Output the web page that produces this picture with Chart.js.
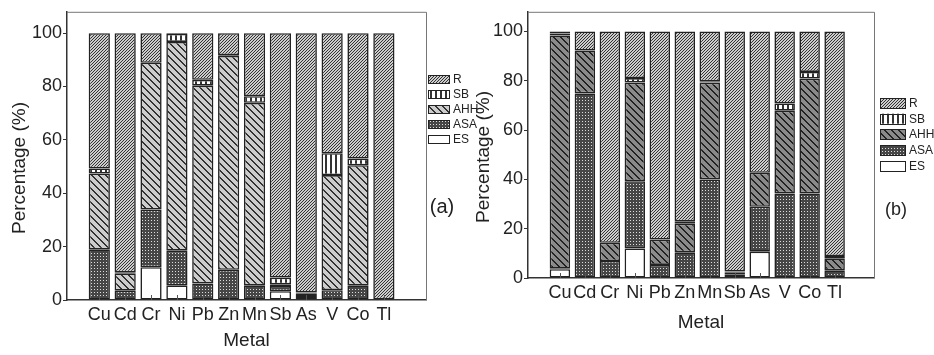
<!DOCTYPE html>
<html>
<head>
<meta charset="utf-8">
<script src="https://cdn.jsdelivr.net/npm/chart.js@4.4.1/dist/chart.umd.min.js"></script>
<style>
  body { margin: 0; background: #fff; }
  #wrap { position: relative; width: 934px; height: 355px; overflow: hidden; }
  canvas { position: absolute; top: 0; }
  #chartA { left: 0; }
  #chartB { left: 467px; }
</style>
</head>
<body>
<div id="wrap">
  <canvas id="chartA" width="500" height="355"></canvas>
  <canvas id="chartB" width="467" height="355"></canvas>
</div>
<script>
const metals = ['Cu', 'Cd', 'Cr', 'Ni', 'Pb', 'Zn', 'Mn', 'Sb', 'As', 'V', 'Co', 'Tl'];
const fractions = ['ES', 'ASA', 'AHH', 'SB', 'R'];
const yTicks = [0, 20, 40, 60, 80, 100];

// panel (a), percent of each fraction
const esA  = [0, 0, 12.3, 5.5, 0, 0, 0, 3.3, 0.3, 0, 0, 0];
const asaA = [19.0, 3.5, 21.6, 13.0, 6.2, 11.3, 5.5, 1.9, 1.2, 3.7, 5.5, 0.2];
const ahhA = [28.4, 6.5, 55.0, 78.2, 74.1, 80.2, 68.4, 0.7, 1.0, 43.1, 45.0, 0];
const sbA  = [1.9, 0.4, 0, 3.0, 2.2, 0.3, 2.5, 2.5, 0.3, 8.2, 2.5, 0];
const rA   = [50.7, 89.6, 11.1, 0.3, 17.5, 8.2, 23.6, 91.6, 97.2, 45.0, 47.0, 99.8];

// panel (b)
const esB  = [3.6, 0, 0, 12.0, 0, 0, 0, 1.3, 10.7, 0, 0, 0];
const asaB = [0.2, 74.9, 6.9, 27.3, 5.3, 10.4, 40.0, 1.0, 18.2, 34.3, 34.3, 3.1];
const ahhB = [94.6, 17.4, 7.4, 40.0, 10.3, 11.6, 39.3, 0.3, 13.8, 33.6, 46.6, 4.9];
const sbB  = [0.8, 0, 0, 1.8, 0, 1.0, 0.5, 0, 0, 2.9, 2.7, 0.9];
const rB   = [0.8, 7.7, 85.7, 18.9, 84.4, 77.0, 20.2, 97.4, 57.3, 29.2, 16.4, 91.1];

Chart.defaults.font.family = "'Liberation Sans', Arial, sans-serif";
Chart.defaults.color = '#222';

// small pixel tiles for the hatch fills
function pattern(size, bg, fg, on) {
    const c = document.createElement('canvas');
    c.width = size;
    c.height = size;
    const g = c.getContext('2d');
    g.fillStyle = bg;
    g.fillRect(0, 0, size, size);
    g.fillStyle = fg;
    for (let y = 0; y < size; y++)
        for (let x = 0; x < size; x++)
            if (on(x, y)) g.fillRect(x, y, 1, 1);
    return g.createPattern(c, 'repeat');
}

const patES = '#ffffff';
const patASA = pattern(3, '#464646', '#dddddd', (x, y) => x === 1 && y === 1);
const patAHHa = pattern(7, '#cdcdcd', '#333', (x, y) => (x - y + 7) % 7 < 2);
const patAHHb = pattern(7, '#8a8a8a', '#222', (x, y) => (x - y + 7) % 7 < 2);
const patSB = pattern(5, '#ffffff', '#333', (x, y) => x < 2);
const patR = pattern(3, '#cccccc', '#333333', (x, y) => (x + y) % 3 === 2);

function makeDatasets(values, pats) {
    return fractions.map((name, k) => ({
        label: name,
        data: metals.map((m, i) => ({ x: i, y: values[k][i] })),
        backgroundColor: pats[k],
        borderColor: '#222',
        borderWidth: 1.6,
        borderSkipped: false,
        barPercentage: 0.82,
        categoryPercentage: 1
    }));
}

// frame, inward x ticks, y title, legend and panel letter
const decor = {
    id: 'decor',
    afterDatasetsDraw(chart, args, o) {
        const ctx = chart.ctx;
        const a = chart.chartArea;
        ctx.save();
        ctx.strokeStyle = '#777';
        ctx.lineWidth = 1;
        ctx.beginPath();
        ctx.moveTo(a.left, a.top + 0.5);
        ctx.lineTo(a.right + 0.5, a.top + 0.5);
        ctx.lineTo(a.right + 0.5, a.bottom);
        ctx.stroke();

        const xs = chart.scales.x;
        ctx.strokeStyle = '#555';
        xs.ticks.forEach(t => {
            const px = Math.round(xs.getPixelForValue(t.value)) + 0.5;
            ctx.beginPath();
            ctx.moveTo(px, a.bottom);
            ctx.lineTo(px, a.bottom - 5);
            ctx.stroke();
        });

        ctx.fillStyle = '#222';
        ctx.textAlign = 'center';
        ctx.textBaseline = 'middle';
        ctx.font = "19px 'Liberation Sans', Arial";
        ctx.save();
        ctx.translate(o.titleX, o.titleY);
        ctx.rotate(-Math.PI / 2);
        ctx.fillText('Percentage (%)', 0, 0);
        ctx.restore();

        ctx.font = o.letterFont;
        ctx.fillText(o.letter, o.letterX, o.letterY);

        // legend, top entry is the last dataset
        ctx.textAlign = 'left';
        ctx.font = "12px 'Liberation Sans', Arial";
        ctx.lineWidth = 1;
        ctx.strokeStyle = '#222';
        const ds = chart.data.datasets.slice().reverse();
        ds.forEach((d, i) => {
            const cy = o.legendY + i * o.legendGap;
            ctx.fillStyle = d.backgroundColor;
            ctx.fillRect(o.legendX, cy - o.swatchH / 2, o.swatchW, o.swatchH);
            ctx.strokeRect(o.legendX + 0.5, Math.round(cy - o.swatchH / 2) + 0.5, o.swatchW, o.swatchH);
            ctx.fillStyle = '#222';
            ctx.fillText(d.label, o.legendX + o.swatchW + 4, cy + 0.5);
        });
        ctx.restore();
    }
};

function makeChart(id, datasets, p) {
    return new Chart(id, {
        type: 'bar',
        data: { datasets: datasets },
        plugins: [decor],
        options: {
            responsive: false,
            animation: false,
            layout: { padding: { top: 8, right: p.padRight, left: 0, bottom: 0 } },
            plugins: {
                legend: { display: false },
                tooltip: { enabled: false },
                decor: p.decor
            },
            scales: {
                x: {
                    type: 'linear',
                    stacked: true,
                    min: p.xMin,
                    max: p.xMax,
                    afterBuildTicks: s => { s.ticks = metals.map((m, i) => ({ value: i })); },
                    afterFit: s => { s.height = p.xHeight; },
                    ticks: {
                        callback: v => metals[v],
                        autoSkip: false,
                        maxRotation: 0,
                        padding: p.xPad,
                        font: { size: 18 },
                        color: '#222'
                    },
                    grid: { drawOnChartArea: false, drawTicks: false },
                    border: { color: '#333', width: 1.5 },
                    title: {
                        display: true,
                        text: 'Metal',
                        font: { size: 19 },
                        color: '#222',
                        padding: { top: 0, bottom: p.titlePad }
                    }
                },
                y: {
                    stacked: true,
                    min: 0,
                    max: 108,
                    afterBuildTicks: s => { s.ticks = yTicks.map(v => ({ value: v })); },
                    afterFit: s => { s.width = p.yWidth; },
                    ticks: { padding: 1, font: { size: 18 }, color: '#222' },
                    grid: { drawOnChartArea: false, tickLength: 4, color: '#333' },
                    border: { color: '#333', width: 1.5 }
                }
            }
        }
    });
}

makeChart('chartA', makeDatasets([esA, asaA, ahhA, sbA, rA], [patES, patASA, patAHHa, patSB, patR]), {
    padRight: 74, xMin: -0.67, xMax: 12.05, xHeight: 55, xPad: 4, titlePad: 3, yWidth: 67,
    decor: {
        titleX: 20, titleY: 168,
        letter: '(a)', letterX: 442, letterY: 207, letterFont: "20px 'Liberation Sans', Arial",
        legendX: 428, legendY: 79, legendGap: 15, swatchW: 21, swatchH: 8
    }
});

makeChart('chartB', makeDatasets([esB, asaB, ahhB, sbB, rB], [patES, patASA, patAHHb, patSB, patR]), {
    padRight: 60, xMin: -0.70, xMax: 12.0, xHeight: 77, xPad: 4, titlePad: 21, yWidth: 61,
    decor: {
        titleX: 17, titleY: 157,
        letter: '(b)', letterX: 429, letterY: 210, letterFont: "18px 'Liberation Sans', Arial",
        legendX: 413, legendY: 103, legendGap: 15.7, swatchW: 25, swatchH: 10
    }
});
</script>
</body>
</html>
